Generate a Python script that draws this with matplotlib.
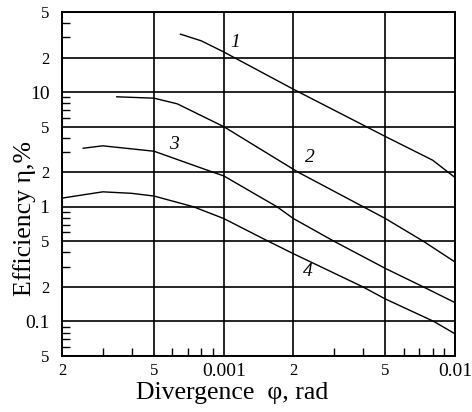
import numpy as np
import matplotlib
matplotlib.use("Agg")
import matplotlib.pyplot as plt
from matplotlib.ticker import FixedLocator, FixedFormatter, NullFormatter

plt.rcParams['font.family'] = ['Liberation Serif', 'DejaVu Serif']

# curves (divergence in rad, efficiency in %)
phi_1 = [6.5e-4, 8.0e-4, 1.0e-3, 2.0e-3, 5.0e-3, 8.0e-3, 1.0e-2]
eta_1 = [32.0, 28.0, 22.4, 10.6, 4.1, 2.55, 1.8]

phi_2 = [3.45e-4, 5.0e-4, 6.3e-4, 1.0e-3, 2.1e-3, 5.0e-3, 7.3e-3, 1.0e-2]
eta_2 = [9.1, 8.85, 7.9, 5.0, 2.0, 0.79, 0.5, 0.33]

phi_3 = [2.47e-4, 3.0e-4, 5.0e-4, 9.0e-4, 1.0e-3, 1.7e-3, 2.0e-3, 3.0e-3, 5.0e-3, 7.3e-3, 1.0e-2]
eta_3 = [3.24, 3.4, 3.05, 2.0, 1.86, 1.0, 0.79, 0.5, 0.29, 0.2, 0.146]

phi_4 = [2.0e-4, 3.0e-4, 4.0e-4, 5.0e-4, 7.4e-4, 1.0e-3, 1.56e-3, 2.0e-3, 4.0e-3, 5.0e-3, 8.1e-3, 1.0e-2]
eta_4 = [1.19, 1.35, 1.31, 1.24, 1.0, 0.79, 0.5, 0.39, 0.2, 0.157, 0.1, 0.078]

curve_labels = ['1', '2', '3', '4']
label_phi = [1.12e-3, 2.35e-3, 6.1e-4, 2.3e-3]
label_eta = [26.9, 2.67, 3.47, 0.27]

x_major = [2e-4, 5e-4, 1e-3, 2e-3, 5e-3, 1e-2]
x_major_labels = ['2', '5', '0.001', '2', '5', '0.01']
y_major = [0.05, 0.1, 0.2, 0.5, 1, 2, 5, 10, 20, 50]
y_major_labels = ['5', '0.1', '2', '5', '1', '2', '5', '10', '2', '5']

x_minor = [m * d for d in (1e-4, 1e-3) for m in (3, 4, 6, 7, 8, 9)]
y_minor = [m * d for d in (0.01, 0.1, 1, 10) for m in (3, 4, 6, 7, 8, 9)]

fig = plt.figure(figsize=(4.72, 4.12), dpi=100)
ax = fig.add_axes([0.1314, 0.136, 0.8326, 0.835])

for phi, eta in [(phi_1, eta_1), (phi_2, eta_2), (phi_3, eta_3), (phi_4, eta_4)]:
    ax.plot(phi, eta, color='black', lw=1.0, zorder=3)

for lab, x, y in zip(curve_labels, label_phi, label_eta):
    ax.text(x, y, lab, fontsize=14, style='italic', ha='center', va='center')

ax.set_xscale('log')
ax.set_yscale('log')
ax.set_xlim(2e-4, 1e-2)
ax.set_ylim(0.05, 50)

ax.xaxis.set_major_locator(FixedLocator(x_major))
ax.xaxis.set_major_formatter(FixedFormatter(x_major_labels))
ax.yaxis.set_major_locator(FixedLocator(y_major))
ax.yaxis.set_major_formatter(FixedFormatter(y_major_labels))
ax.xaxis.set_minor_locator(FixedLocator(x_minor))
ax.yaxis.set_minor_locator(FixedLocator(y_minor))
ax.xaxis.set_minor_formatter(NullFormatter())
ax.yaxis.set_minor_formatter(NullFormatter())

ax.tick_params(which='major', length=0, labelsize=14)
ax.tick_params(axis='x', which='major', pad=5)
ax.tick_params(axis='y', which='major', pad=9)
ax.tick_params(which='minor', direction='in', length=6, width=1.0)
ax.grid(True, which='major', color='black', lw=1.2)

# the 2 and 5 labels are printed smaller than the decade labels
for t in ax.get_xticklabels() + ax.get_yticklabels():
    if t.get_text() in ('2', '5'):
        t.set_fontsize(12)

for s in ax.spines.values():
    s.set_linewidth(1.4)

ax.set_xlabel('Divergence  \u03c6, rad', fontsize=18.5)
ax.set_ylabel('Efficiency \u03b7,%', fontsize=18.5, va='center')
ax.xaxis.set_label_coords(0.434, -0.075)
ax.yaxis.set_label_coords(-0.095, 0.40)

fig.savefig('out.png', dpi=100)
